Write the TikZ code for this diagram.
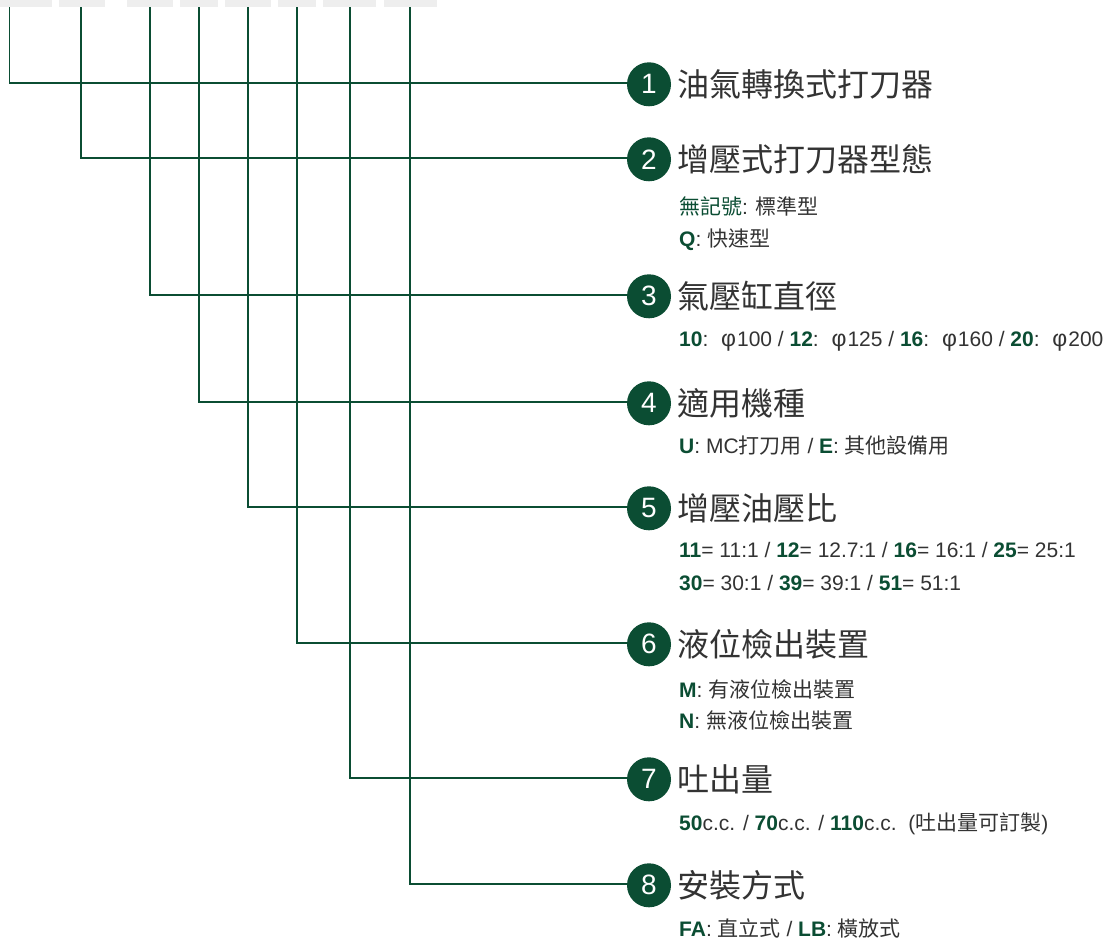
\documentclass[tikz,border=0pt]{standalone}
\usepackage{fontspec}
\setmainfont{Liberation Sans}
\newfontfamily\cjk{Noto Sans CJK TC}
\definecolor{brandgreen}{HTML}{0B4D33}
\definecolor{txtgray}{HTML}{333333}
\definecolor{boxgray}{HTML}{EEEEEE}
\newcommand\gb[1]{\textcolor{brandgreen}{\textbf{#1}}}
\newcommand\zh[1]{{\cjk #1}}
\newcommand\phisym{\hspace{5pt}{\fontsize{23}{23}\selectfont φ}\hspace{1pt}}
\begin{document}
\begin{tikzpicture}[x=1pt,y=-1pt,
  conn/.style={draw=brandgreen,line width=1.8pt},
  num/.style={circle,fill=brandgreen,minimum size=44pt,inner sep=0pt,text=white,font=\fontsize{28}{28}\selectfont},
  ttl/.style={anchor=base west,inner sep=0pt,text=txtgray,font=\fontsize{32}{32}\selectfont\cjk},
  sub/.style={anchor=base west,inner sep=0pt,text=txtgray,font=\fontsize{21}{21}\selectfont},
  topbox/.style={fill=boxgray,draw=none}]
\useasboundingbox (0,0) rectangle (1104,939);
% grey boxes at the top
\foreach \a/\b in {0/51.7,59/105,127/173,180/218,225/271,278/316,323/376,384/437}
  \path[topbox] (\a,0) rectangle (\b,7.3);
% start points of the leader lines
\coordinate (v1) at (9.5,7.3);
\coordinate (v2) at (81,7.3);
\coordinate (v3) at (149.7,7.3);
\coordinate (v4) at (198.7,7.3);
\coordinate (v5) at (247.7,7.3);
\coordinate (v6) at (296.7,7.3);
\coordinate (v7) at (349.7,7.3);
\coordinate (v8) at (410.3,7.3);
% numbered circles
\node[num] (c1) at (649,84.3) {1};
\node[num] (c2) at (649,159.3) {2};
\node[num] (c3) at (649,296.3) {3};
\node[num] (c4) at (649,403.3) {4};
\node[num] (c5) at (649,508.3) {5};
\node[num] (c6) at (649,644.3) {6};
\node[num] (c7) at (649,779.3) {7};
\node[num] (c8) at (649,885.3) {8};
% connectors
\foreach \i in {1,...,8}
  \draw[conn] (v\i) |- ([yshift=1.6pt]c\i.west);
% titles
\node[ttl] (t1) at (677,96.5) {油氣轉換式打刀器};
\node[ttl] (t2) at (677,171.5) {增壓式打刀器型態};
\node[ttl] (t3) at (677,308.5) {氣壓缸直徑};
\node[ttl] (t4) at (677,415.5) {適用機種};
\node[ttl] (t5) at (677,520.5) {增壓油壓比};
\node[ttl] (t6) at (677,656.5) {液位檢出裝置};
\node[ttl] (t7) at (677,791.5) {吐出量};
\node[ttl] (t8) at (677,897.5) {安裝方式};
% details
\node[sub] (s2a) at (679,214.5) {\textcolor{brandgreen}{\zh{無記號}}: \zh{標準型}};
\node[sub] (s2b) at (679,246.5) {\gb{Q}: \zh{快速型}};
\node[sub] (s3) at (679,346.5) {\gb{10}: \phisym100 / \gb{12}: \phisym125 / \gb{16}: \phisym160 / \gb{20}: \phisym200};
\node[sub] (s4) at (679,453.5) {\gb{U}: MC\zh{打刀用} / \gb{E}: \zh{其他設備用}};
\node[sub] (s5a) at (679,557.5) {\gb{11}= 11:1 / \gb{12}= 12.7:1 / \gb{16}= 16:1 / \gb{25}= 25:1};
\node[sub] (s5b) at (679,590.5) {\gb{30}= 30:1 / \gb{39}= 39:1 / \gb{51}= 51:1};
\node[sub] (s6a) at (679,697.5) {\gb{M}: \zh{有液位檢出裝置}};
\node[sub] (s6b) at (679,728.5) {\gb{N}: \zh{無液位檢出裝置}};
\node[sub] (s7) at (679,830.5) {\gb{50}c.c. / \gb{70}c.c. / \gb{110}c.c.\ \ (\zh{吐出量可訂製})};
\node[sub] (s8) at (679,936.5) {\gb{FA}: \zh{直立式} / \gb{LB}: \zh{橫放式}};
\end{tikzpicture}
\end{document}
